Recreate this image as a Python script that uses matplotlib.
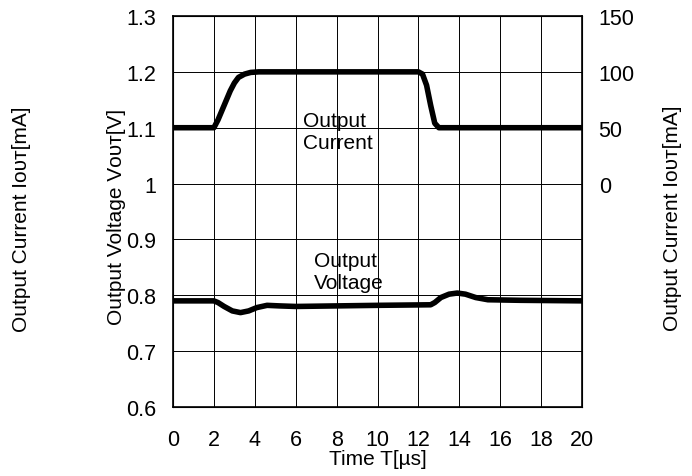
import matplotlib
matplotlib.use("Agg")
import matplotlib.pyplot as plt

# Data
t_current = [0, 2.0, 2.2, 2.5, 2.8, 3.0, 3.2, 3.5, 3.8, 4.2, 12.0, 12.2, 12.4, 12.6, 12.8, 13.0, 20]
current_mA = [50, 50, 57, 70, 83, 90, 95, 98, 99.5, 100, 100, 98, 88, 70, 54, 50, 50]

t_voltage = [0, 2.0, 2.2, 2.5, 2.9, 3.3, 3.7, 4.1, 4.6, 5.2, 6.0, 8.0, 10.0, 12.6, 12.8, 13.1, 13.5, 13.9, 14.3, 14.8, 15.4, 17.0, 20]
voltage_V = [0.790, 0.790, 0.787, 0.780, 0.772, 0.769, 0.772, 0.778, 0.782, 0.781, 0.780, 0.781, 0.782, 0.783, 0.787, 0.796, 0.802, 0.804, 0.802, 0.796, 0.792, 0.791, 0.790]

x_ticks = [0, 2, 4, 6, 8, 10, 12, 14, 16, 18, 20]
left_ticks = [0.6, 0.7, 0.8, 0.9, 1.0, 1.1, 1.2, 1.3]
left_ticklabels = ["0.6", "0.7", "0.8", "0.9", "1", "1.1", "1.2", "1.3"]
right_ticks = [0, 50, 100, 150]

FAM = ["Liberation Sans", "DejaVu Sans"]
plt.rcParams["font.family"] = FAM

W, H = 692, 477
fig = plt.figure(figsize=(6.92, 4.77), dpi=100)
ax = fig.add_axes([173/W, 1 - 408/H, (582-173)/W, (408-17)/H])
ax.set_xlim(0, 20)
ax.set_ylim(0.6, 1.3)
ax.set_xticks(x_ticks)
ax.set_yticks(left_ticks)
ax.set_yticklabels(left_ticklabels)
ax.grid(True, color="black", lw=0.7)
ax.tick_params(length=0, labelsize=15.5, pad=12)
ax.tick_params(axis="x", pad=16)
for s in ax.spines.values():
    s.set_linewidth(1.2)

ax.plot(t_voltage, voltage_V, color="black", lw=4, solid_capstyle="butt", solid_joinstyle="round")

ax2 = ax.twinx()
ax2.set_ylim(-200, 150)
ax2.set_yticks(right_ticks)
ax2.tick_params(length=0, labelsize=15.5, pad=12)
ax2.plot(t_current, current_mA, color="black", lw=4, solid_capstyle="butt", solid_joinstyle="round")

ax.set_xlabel("Time T[µs]", fontsize=15, labelpad=-1)

fig.text(117/W, 1 - 217/H, "Output Voltage Vᴏᴜᴛ[V]", rotation=90,
         fontsize=15, ha="center", va="center")
fig.text(22/W, 1 - 219/H, "Output Current Iᴏᴜᴛ[mA]", rotation=90,
         fontsize=15, ha="center", va="center")
fig.text(673/W, 1 - 218/H, "Output Current Iᴏᴜᴛ[mA]", rotation=90,
         fontsize=15, ha="center", va="center")

ax.text(6.35, 1.13, "Output\nCurrent", fontsize=15, va="top", ha="left", linespacing=1.2)
ax.text(6.9, 0.88, "Output\nVoltage", fontsize=15, va="top", ha="left", linespacing=1.2)

fig.savefig("out.png", dpi=100)
